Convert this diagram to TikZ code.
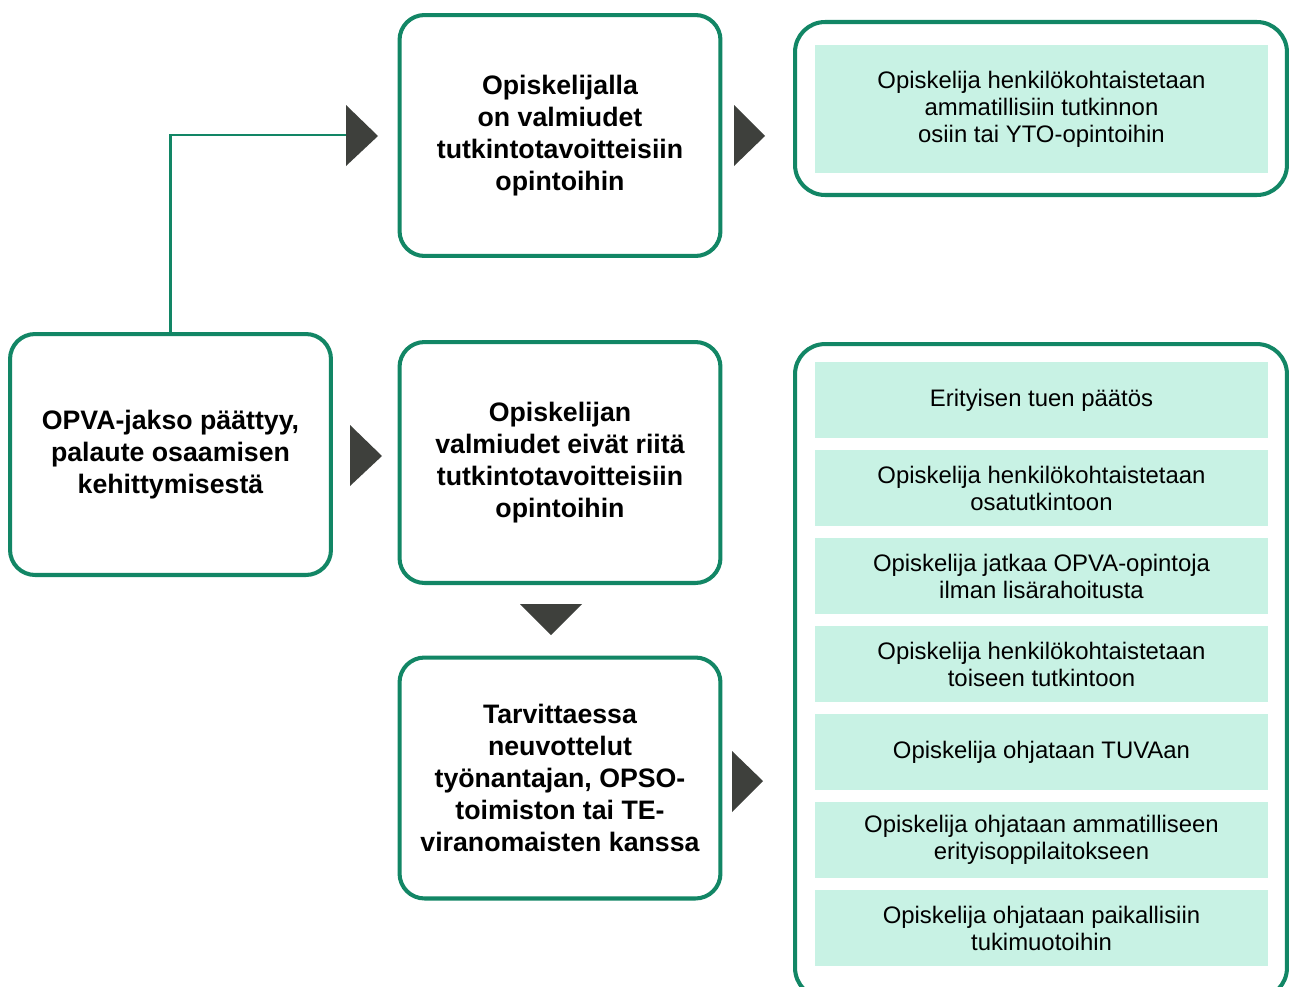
\documentclass[tikz,border=0pt]{standalone}
\usepackage{fontspec}
\setmainfont{Liberation Sans}
\usepackage{tikz}
\usepackage{xcolor}

\begin{document}
\begin{tikzpicture}[x=0.02cm,y=-0.02cm,
  stagebox/.style={draw=opvagreen,line width=2.3pt,rounded corners=0.5cm,fill=white,
    minimum width=6.42cm,minimum height=4.82cm,align=center,
    font=\fontsize{15.2}{18.2}\selectfont\bfseries},
  outerbox/.style={draw=opvagreen,line width=2.3pt,rounded corners=0.6cm,fill=white,
    minimum width=9.84cm,align=center},
  optionbox/.style={fill=opvamint,minimum width=9.06cm,minimum height=1.52cm,align=center,
    font=\fontsize{13.6}{15.4}\selectfont},
  pointer/.style={fill=arrowgray},
  link/.style={draw=opvagreen,line width=1.3pt}]
% Define colours
\definecolor{opvagreen}{RGB}{18,134,101}
\definecolor{opvamint}{RGB}{200,242,228}
\definecolor{arrowgray}{RGB}{62,64,60}

\useasboundingbox (0,0) rectangle (1292,987);
\clip (0,0) rectangle (1292,987);

% Draw stage boxes
\node[stagebox] (opva) at (170.5,454.5) {OPVA-jakso päättyy,\\palaute osaamisen\\kehittymisestä};
\node[stagebox] (ready) at (560,135.5) {Opiskelijalla\\on valmiudet\\tutkintotavoitteisiin\\opintoihin};
\node[stagebox] (notready) at (560,462.5) {Opiskelijan\\valmiudet eivät riitä\\tutkintotavoitteisiin\\opintoihin};
\node[stagebox] (negot) at (560,778) {Tarvittaessa\\neuvottelut\\työnantajan, OPSO-\\toimiston tai TE-\\viranomaisten kanssa};

% Draw outcome boxes
\node[outerbox,minimum height=3.46cm] (readyout) at (1041,108.5) {};
\node[outerbox,minimum height=13.08cm] (otherout) at (1041,671) {};

\node[optionbox,minimum height=2.56cm] (persqual) at (1041.5,109) {Opiskelija henkilökohtaistetaan\\ammatillisiin tutkinnon\\osiin tai YTO-opintoihin};

\node[optionbox] (special) at (1041.5,400) {Erityisen tuen päätös};
\node[optionbox] (partqual) at (1041.5,488) {Opiskelija henkilökohtaistetaan\\osatutkintoon};
\node[optionbox] (contopva) at (1041.5,576) {Opiskelija jatkaa OPVA-opintoja\\ilman lisärahoitusta};
\node[optionbox] (otherqual) at (1041.5,664) {Opiskelija henkilökohtaistetaan\\toiseen tutkintoon};
\node[optionbox] (tuva) at (1041.5,752) {Opiskelija ohjataan TUVAan};
\node[optionbox] (specschool) at (1041.5,840) {Opiskelija ohjataan ammatilliseen\\erityisoppilaitokseen};
\node[optionbox] (localsupp) at (1041.5,928) {Opiskelija ohjataan paikallisiin\\tukimuotoihin};

% Add pointers
\fill[pointer] (346,105) -- (378,136) -- (346,166) -- cycle;
\fill[pointer] (734,105) -- (765,136) -- (734,166) -- cycle;
\fill[pointer] (350,425) -- (382,456) -- (350,486) -- cycle;
\fill[pointer] (520,604) -- (582,604) -- (551,635) -- cycle;
\fill[pointer] (732,751) -- (763,781) -- (732,812) -- cycle;

% Add connector
\coordinate (readyin) at (346,135);
\draw[link] (opva.north) |- (readyin);
\end{tikzpicture}
\end{document}
